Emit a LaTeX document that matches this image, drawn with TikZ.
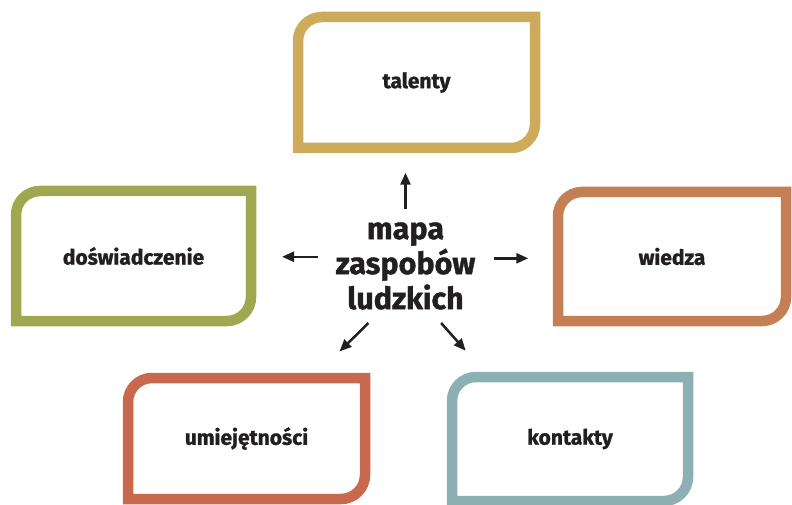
\documentclass[tikz,border=0pt]{standalone}
\usepackage{fontspec}
\setmainfont{Fira Sans}[BoldFeatures={FakeBold=1.2}]
\usetikzlibrary{arrows.meta}
\definecolor{talent}{RGB}{205,171,91}
\definecolor{wiedz}{RGB}{196,128,84}
\definecolor{umiej}{RGB}{200,104,76}
\definecolor{dosw}{RGB}{158,168,78}
\definecolor{kontakt}{RGB}{140,176,180}
\definecolor{tekst}{RGB}{35,31,32}
\begin{document}
\begin{tikzpicture}[x=1pt, y=1pt,
    pole/.style={inner sep=0pt, outer sep=0pt, text=tekst, font=\bfseries\fontsize{21}{25}\selectfont},
    strzalka/.style={line width=2.5pt, tekst, -{Triangle[length=12pt,width=10pt]}}]
    \def \promien {24}
    \useasboundingbox (0,0) rectangle (792,504);
    \node[pole, minimum width=237, minimum height=131] (talenty) at (416.5, 421.5) {talenty};
    \node[pole, minimum width=228, minimum height=129] (wiedza) at (672, 247.5) {wiedza};
    \node[pole, minimum width=237, minimum height=121] (umiejetnosci) at (246.5, 65.5) {umiejętności};
    \node[pole, minimum width=235, minimum height=130] (doswiadczenie) at (133.5, 248) {doświadczenie};
    \node[pole, minimum width=236, minimum height=124] (kontakty) at (570, 65) {kontakty};
    \node[pole, minimum width=176, minimum height=114, align=center,
          font=\bfseries\fontsize{30.5}{35}\selectfont] (mapa) at (405.5, 238) {mapa\\zaspobów\\ludzkich};
    \coordinate (lewydol) at (339.5, 152.5);
    \coordinate (prawydol) at (465.7, 153.3);
    % ramki
    \foreach \n/\c in {talenty/talent, wiedza/wiedz, umiejetnosci/umiej, doswiadczenie/dosw, kontakty/kontakt}
        \draw[line width=10.5pt, \c] (\n.south west) -- ([yshift=-\promien pt]\n.north west)
            arc[start angle=180, end angle=90, radius=\promien pt] -- (\n.north east)
            -- ([yshift=\promien pt]\n.south east)
            arc[start angle=0, end angle=-90, radius=\promien pt] -- cycle;
    \draw[strzalka, shorten >=24.7pt] (mapa.north) -- (mapa.north |- talenty.south);
    \draw[strzalka, shorten >=31pt] (mapa.174.8) -- (mapa.174.8 -| doswiadczenie.east);
    \draw[strzalka, shorten >=29.7pt] (mapa.5.2) -- (mapa.5.2 -| wiedza.west);
    \draw[strzalka] (mapa.-123.1) -- (lewydol);
    \draw[strzalka] (mapa.-58.8) -- (prawydol);
\end{tikzpicture}
\end{document}
